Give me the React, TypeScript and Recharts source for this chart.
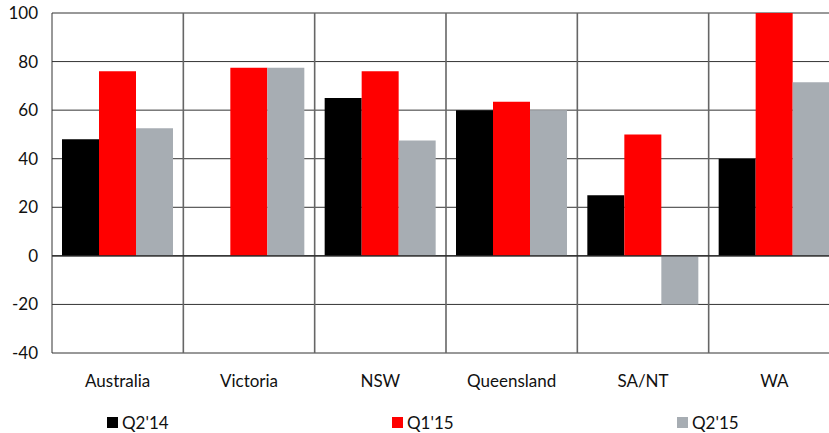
import {
  Bar,
  BarChart,
  CartesianGrid,
  Legend,
  ReferenceLine,
  XAxis,
  YAxis,
} from "recharts";

const regions = ["Australia", "Victoria", "NSW", "Queensland", "SA/NT", "WA"];
const q214 = [48, 0, 65, 60, 25, 40];
const q115 = [76, 77.5, 76, 63.5, 50, 100];
const q215 = [52.5, 77.5, 47.5, 60, -20, 71.5];
const yTicks = [-40, -20, 0, 20, 40, 60, 80, 100];

const series = [
  { key: "q214", name: "Q2'14", color: "#000000" },
  { key: "q115", name: "Q1'15", color: "#FF0000" },
  { key: "q215", name: "Q2'15", color: "#A7ADB3" },
];

const data = regions.map((name, i) => ({
  name,
  q214: q214[i],
  q115: q115[i],
  q215: q215[i],
}));

const FONT = "Lato, 'Open Sans', sans-serif";

function LegendRow() {
  return (
    <div style={{ position: "relative", height: 28, fontFamily: FONT, fontSize: 17, lineHeight: "17px", color: "#111" }}>
      {series.map((s, i) => (
        <div
          key={s.key}
          style={{
            position: "absolute",
            left: 107 + i * 285,
            top: 9,
            height: 17,
            display: "flex",
            alignItems: "center",
          }}
        >
          <span style={{ width: 11, height: 11, background: s.color, display: "inline-block", marginRight: 4 }} />
          <span>{s.name}</span>
        </div>
      ))}
    </div>
  );
}

export default function App() {
  return (
    <div
      style={{
        position: "fixed",
        left: 0,
        top: 0,
        width: 829,
        height: 433,
        overflow: "hidden",
        background: "#fff",
      }}
    >
      <BarChart
        width={840}
        height={433}
        data={data}
        margin={{ top: 13, right: 0, bottom: 0, left: 0 }}
        barCategoryGap={10}
        barGap={0}
      >
        <CartesianGrid vertical={false} stroke="#333" strokeWidth={1} />
        <CartesianGrid
          horizontal={false}
          stroke="#666"
          strokeWidth={1.6}
          verticalCoordinatesGenerator={({ offset }: any) =>
            [1, 2, 3, 4, 5].map((k) => offset.left + (k * offset.width) / regions.length)
          }
        />
        <XAxis
          dataKey="name"
          height={52}
          tickSize={0}
          tickMargin={22}
          axisLine={false}
          tick={{ fill: "#111", fontSize: 17, fontFamily: FONT }}
        />
        <YAxis
          width={52}
          domain={[-40, 100]}
          ticks={yTicks}
          interval={0}
          tickSize={0}
          tickMargin={14}
          axisLine={{ stroke: "#333" }}
          tick={{ fill: "#111", fontSize: 17, fontFamily: FONT }}
        />
        <ReferenceLine y={0} stroke="#222" strokeWidth={1.2} />
        <Legend verticalAlign="bottom" height={28} content={() => <LegendRow />} />
        {series.map((s) => (
          <Bar key={s.key} dataKey={s.key} name={s.name} fill={s.color} isAnimationActive={false} />
        ))}
      </BarChart>
    </div>
  );
}
